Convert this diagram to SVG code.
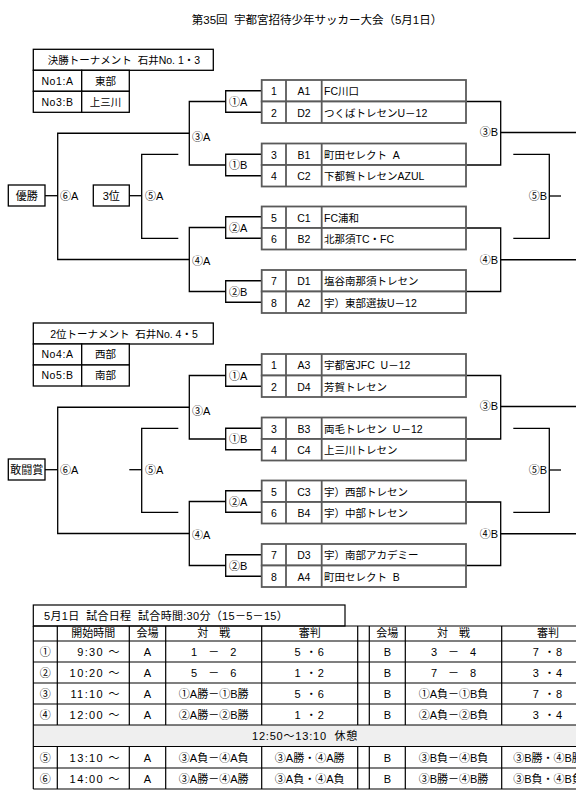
<svg xmlns="http://www.w3.org/2000/svg" width="576" height="807" viewBox="0 0 576 807">
<style>
text{font-family:"Liberation Sans","Noto Sans CJK JP",sans-serif;font-size:11px;fill:#000;white-space:pre}
.c{text-anchor:middle}
.e{text-anchor:end}
.t{font-size:10.5px}
.ln{stroke:#000;stroke-width:1.3;fill:none}
.box{fill:#fff;stroke:#000;stroke-width:1.3}
.tt{fill:#fff;stroke:#5a5a5a;stroke-width:1.8}
.tl{stroke:#5a5a5a;stroke-width:1.8}
.sc{stroke:#000;stroke-width:1.2;fill:none}
</style>
<defs>
<g id="teamcells">
<rect class="tt" x="261.7" y="0" width="204.3" height="21.5"/>
<line class="tl" x1="286" y1="0" x2="286" y2="21.5"/>
<line class="tl" x1="321.7" y1="0" x2="321.7" y2="21.5"/>
</g>
</defs>
<rect width="576" height="807" fill="#fff"/>
<g id="title"><text x="317" y="24" class="c" style="font-size:11.5px">第35回  宇都宮招待少年サッカー大会（5月1日）</text></g>

<g id="section1">
<g id="s1-connectors">
<path class="ln" d="M261.7 90.75H225.7V112.25H261.7"/>
<path class="ln" d="M261.7 154.25H225.7V175.75H261.7"/>
<path class="ln" d="M261.7 216.75H225.7V238.25H261.7"/>
<path class="ln" d="M261.7 280.75H225.7V302.25H261.7"/>
<path class="ln" d="M225.7 101.5H189.3V165H225.7"/>
<path class="ln" d="M225.7 227.5H189.3V291.5H225.7"/>
<path class="ln" d="M189.3 133.25H57.7V259.5H189.3"/>
<path class="ln" d="M45 195.7H57.7"/>
<path class="ln" d="M129.3 195.7H141.7"/>
<path class="ln" d="M178.3 154.3H141.7V238.3H178.3"/>
<path class="ln" d="M466 101.5H500.7V165H466"/>
<path class="ln" d="M500.7 132.5H576"/>
<path class="ln" d="M466 228H500.7V291.5H466"/>
<path class="ln" d="M500.7 259.75H576"/>
<path class="ln" d="M513.3 154.3H549.3V238.3H513.3"/>
<path class="ln" d="M549.3 196H561"/>
</g>
<g id="s1-info">
<rect class="box" x="33.3" y="49.3" width="180" height="21"/>
<rect class="box" x="33.3" y="70.3" width="48.4" height="21"/>
<rect class="box" x="81.7" y="70.3" width="47.6" height="21"/>
<rect class="box" x="33.3" y="91.3" width="48.4" height="21"/>
<rect class="box" x="81.7" y="91.3" width="47.6" height="21"/>
<text class="c t" x="124" y="64">決勝トーナメント  石井No. 1・3</text>
<text class="c t" x="57.5" y="84.5" style="letter-spacing:.6px">No1:A</text>
<text class="c t" x="105.5" y="84.5">東部</text>
<text class="c t" x="57.5" y="105.5" style="letter-spacing:.6px">No3:B</text>
<text class="c t" x="105.5" y="105.5">上三川</text>
</g>
<g id="s1-team1"><use href="#teamcells" y="80"/><text class="c t" x="273.9" y="95">1</text><text class="c t" x="303.9" y="95">A1</text><text class="t" x="324" y="95">FC川口</text></g>
<g id="s1-team2"><use href="#teamcells" y="101.5"/><text class="c t" x="273.9" y="116.5">2</text><text class="c t" x="303.9" y="116.5">D2</text><text class="t" x="324" y="116.5">つくばトレセンU－12</text></g>
<g id="s1-team3"><use href="#teamcells" y="143.5"/><text class="c t" x="273.9" y="158.5">3</text><text class="c t" x="303.9" y="158.5">B1</text><text class="t" x="324" y="158.5">町田セレクト  A</text></g>
<g id="s1-team4"><use href="#teamcells" y="165"/><text class="c t" x="273.9" y="180">4</text><text class="c t" x="303.9" y="180">C2</text><text class="t" x="324" y="180">下都賀トレセンAZUL</text></g>
<g id="s1-team5"><use href="#teamcells" y="206.5"/><text class="c t" x="273.9" y="221.5">5</text><text class="c t" x="303.9" y="221.5">C1</text><text class="t" x="324" y="221.5">FC浦和</text></g>
<g id="s1-team6"><use href="#teamcells" y="228"/><text class="c t" x="273.9" y="243">6</text><text class="c t" x="303.9" y="243">B2</text><text class="t" x="324" y="243">北那須TC・FC</text></g>
<g id="s1-team7"><use href="#teamcells" y="270"/><text class="c t" x="273.9" y="285">7</text><text class="c t" x="303.9" y="285">D1</text><text class="t" x="324" y="285">塩谷南那須トレセン</text></g>
<g id="s1-team8"><use href="#teamcells" y="291.5"/><text class="c t" x="273.9" y="306.5">8</text><text class="c t" x="303.9" y="306.5">A2</text><text class="t" x="324" y="306.5">宇）東部選抜U－12</text></g>
<g id="s1-champion"><rect class="box" x="8.3" y="185" width="36.7" height="21"/><text class="c" x="26.7" y="199.5">優勝</text></g>
<g id="s1-third"><rect class="box" x="93.3" y="185" width="36" height="21"/><text class="c" x="111.3" y="199.5">3位</text></g>
<g id="s1-labels">
<text x="229" y="105.5">①A</text>
<text x="229" y="169">①B</text>
<text x="229" y="231.5">②A</text>
<text x="229" y="295.5">②B</text>
<text x="192" y="140.5">③A</text>
<text x="192" y="265">④A</text>
<text x="60" y="200">⑥A</text>
<text x="145" y="200">⑤A</text>
<text class="e" x="498" y="136">③B</text>
<text class="e" x="498" y="264">④B</text>
<text class="e" x="547" y="200">⑤B</text>
</g>
</g>

<g id="section2" transform="translate(0,274)">
<g id="s2-connectors">
<path class="ln" d="M261.7 90.75H225.7V112.25H261.7"/>
<path class="ln" d="M261.7 154.25H225.7V175.75H261.7"/>
<path class="ln" d="M261.7 216.75H225.7V238.25H261.7"/>
<path class="ln" d="M261.7 280.75H225.7V302.25H261.7"/>
<path class="ln" d="M225.7 101.5H189.3V165H225.7"/>
<path class="ln" d="M225.7 227.5H189.3V291.5H225.7"/>
<path class="ln" d="M189.3 133.25H57.7V259.5H189.3"/>
<path class="ln" d="M45 195.7H57.7"/>
<path class="ln" d="M129.3 195.7H141.7"/>
<path class="ln" d="M178.3 154.3H141.7V238.3H178.3"/>
<path class="ln" d="M466 101.5H500.7V165H466"/>
<path class="ln" d="M500.7 132.5H576"/>
<path class="ln" d="M466 228H500.7V291.5H466"/>
<path class="ln" d="M500.7 259.75H576"/>
<path class="ln" d="M513.3 154.3H549.3V238.3H513.3"/>
<path class="ln" d="M549.3 196H561"/>
</g>
<g id="s2-info">
<rect class="box" x="33.3" y="49" width="180" height="21"/>
<rect class="box" x="33.3" y="70" width="48.4" height="21"/>
<rect class="box" x="81.7" y="70" width="47.6" height="21"/>
<rect class="box" x="33.3" y="91" width="48.4" height="21"/>
<rect class="box" x="81.7" y="91" width="47.6" height="21"/>
<text class="c t" x="124" y="63.5">2位トーナメント  石井No. 4・5</text>
<text class="c t" x="57.5" y="84" style="letter-spacing:.6px">No4:A</text>
<text class="c t" x="105.5" y="84">西部</text>
<text class="c t" x="57.5" y="105" style="letter-spacing:.6px">No5:B</text>
<text class="c t" x="105.5" y="105">南部</text>
</g>
<g id="s2-team1"><use href="#teamcells" y="80"/><text class="c t" x="273.9" y="95">1</text><text class="c t" x="303.9" y="95">A3</text><text class="t" x="324" y="95">宇都宮JFC  U－12</text></g>
<g id="s2-team2"><use href="#teamcells" y="101.5"/><text class="c t" x="273.9" y="116.5">2</text><text class="c t" x="303.9" y="116.5">D4</text><text class="t" x="324" y="116.5">芳賀トレセン</text></g>
<g id="s2-team3"><use href="#teamcells" y="143.5"/><text class="c t" x="273.9" y="158.5">3</text><text class="c t" x="303.9" y="158.5">B3</text><text class="t" x="324" y="158.5">両毛トレセン  U－12</text></g>
<g id="s2-team4"><use href="#teamcells" y="165"/><text class="c t" x="273.9" y="180">4</text><text class="c t" x="303.9" y="180">C4</text><text class="t" x="324" y="180">上三川トレセン</text></g>
<g id="s2-team5"><use href="#teamcells" y="206.5"/><text class="c t" x="273.9" y="221.5">5</text><text class="c t" x="303.9" y="221.5">C3</text><text class="t" x="324" y="221.5">宇）西部トレセン</text></g>
<g id="s2-team6"><use href="#teamcells" y="228"/><text class="c t" x="273.9" y="243">6</text><text class="c t" x="303.9" y="243">B4</text><text class="t" x="324" y="243">宇）中部トレセン</text></g>
<g id="s2-team7"><use href="#teamcells" y="270"/><text class="c t" x="273.9" y="285">7</text><text class="c t" x="303.9" y="285">D3</text><text class="t" x="324" y="285">宇）南部アカデミー</text></g>
<g id="s2-team8"><use href="#teamcells" y="291.5"/><text class="c t" x="273.9" y="306.5">8</text><text class="c t" x="303.9" y="306.5">A4</text><text class="t" x="324" y="306.5">町田セレクト  B</text></g>
<g id="s2-fighting"><rect class="box" x="8.3" y="185" width="36.7" height="21"/><text class="c" x="26.7" y="199.5">敢闘賞</text></g>
<g id="s2-labels">
<text x="229" y="105.5">①A</text>
<text x="229" y="169">①B</text>
<text x="229" y="231.5">②A</text>
<text x="229" y="295.5">②B</text>
<text x="192" y="140.5">③A</text>
<text x="192" y="265">④A</text>
<text x="60" y="200">⑥A</text>
<text x="145" y="200">⑤A</text>
<text class="e" x="498" y="136">③B</text>
<text class="e" x="498" y="264">④B</text>
<text class="e" x="547" y="200">⑤B</text>
</g>
</g>

<g id="schedule">
<rect class="sc" x="33.3" y="605" width="311.7" height="21"/>
<text x="44" y="619.5" style="letter-spacing:.3px">5月1日  試合日程  試合時間:30分（15－5－15）</text>
<rect x="33.3" y="725" width="570" height="21.5" fill="#efefef"/>
<path class="sc" d="M33.3 626H604M33.3 641H604M33.3 662H604M33.3 683H604M33.3 704H604M33.3 725H604M33.3 746.5H604M33.3 768H604M33.3 789H604M33.3 626V789"/>
<path class="sc" d="M57.3 626V725M129.3 626V725M165.7 626V725M261.7 626V725M357.7 626V725M369.3 626V725M405.3 626V725M501.7 626V725M57.3 746.5V789M129.3 746.5V789M165.7 746.5V789M261.7 746.5V789M357.7 746.5V789M369.3 746.5V789M405.3 746.5V789M501.7 746.5V789"/>
<g style="font-size:10px">
<text class="c" x="93.3" y="637.3">開始時間</text>
<text class="c" x="147.5" y="637.3">会場</text>
<text class="c" x="213.7" y="637.3">対　戦</text>
<text class="c" x="309.7" y="637.3">審判</text>
<text class="c" x="387.3" y="637.3">会場</text>
<text class="c" x="453.5" y="637.3">対　戦</text>
<text class="c" x="548" y="637.3">審判</text>
</g>
<g id="row1">
<text class="c" x="45.3" y="656">①</text><text class="e" x="121" y="656" style="letter-spacing:1.4px">9:30 ～</text><text class="c" x="147.5" y="656">A</text><text class="c" x="213.7" y="656">1　－　2</text><text class="c" x="309.7" y="656" style="letter-spacing:1px">5 ・6</text><text class="c" x="387.3" y="656">B</text><text class="c" x="453.5" y="656">3　－　4</text><text class="c" x="548" y="656" style="letter-spacing:1px">7 ・8</text>
</g>
<g id="row2">
<text class="c" x="45.3" y="677">②</text><text class="e" x="121" y="677" style="letter-spacing:1.4px">10:20 ～</text><text class="c" x="147.5" y="677">A</text><text class="c" x="213.7" y="677">5　－　6</text><text class="c" x="309.7" y="677" style="letter-spacing:1px">1 ・2</text><text class="c" x="387.3" y="677">B</text><text class="c" x="453.5" y="677">7　－　8</text><text class="c" x="548" y="677" style="letter-spacing:1px">3 ・4</text>
</g>
<g id="row3">
<text class="c" x="45.3" y="698">③</text><text class="e" x="121" y="698" style="letter-spacing:1.4px">11:10 ～</text><text class="c" x="147.5" y="698">A</text><text class="c" x="213.7" y="698">①A勝－①B勝</text><text class="c" x="309.7" y="698" style="letter-spacing:1px">5 ・6</text><text class="c" x="387.3" y="698">B</text><text class="c" x="453.5" y="698">①A負－①B負</text><text class="c" x="548" y="698" style="letter-spacing:1px">7 ・8</text>
</g>
<g id="row4">
<text class="c" x="45.3" y="719">④</text><text class="e" x="121" y="719" style="letter-spacing:1.4px">12:00 ～</text><text class="c" x="147.5" y="719">A</text><text class="c" x="213.7" y="719">②A勝－②B勝</text><text class="c" x="309.7" y="719" style="letter-spacing:1px">1 ・2</text><text class="c" x="387.3" y="719">B</text><text class="c" x="453.5" y="719">②A負－②B負</text><text class="c" x="548" y="719" style="letter-spacing:1px">3 ・4</text>
</g>
<g id="break"><text x="252" y="740" style="letter-spacing:.8px">12:50～13:10  休憩</text></g>
<g id="row5">
<text class="c" x="45.3" y="761.5">⑤</text><text class="e" x="121" y="761.5" style="letter-spacing:1.4px">13:10 ～</text><text class="c" x="147.5" y="761.5">A</text><text class="c" x="213.7" y="761.5">③A負－④A負</text><text class="c" x="309.7" y="761.5">③A勝・④A勝</text><text class="c" x="387.3" y="761.5">B</text><text class="c" x="453.5" y="761.5">③B負－④B負</text><text class="c" x="548" y="761.5">③B勝・④B勝</text>
</g>
<g id="row6">
<text class="c" x="45.3" y="782.5">⑥</text><text class="e" x="121" y="782.5" style="letter-spacing:1.4px">14:00 ～</text><text class="c" x="147.5" y="782.5">A</text><text class="c" x="213.7" y="782.5">③A勝－④A勝</text><text class="c" x="309.7" y="782.5">③A負・④A負</text><text class="c" x="387.3" y="782.5">B</text><text class="c" x="453.5" y="782.5">③B勝－④B勝</text><text class="c" x="548" y="782.5">③B負・④B負</text>
</g>
</g>
</svg>
